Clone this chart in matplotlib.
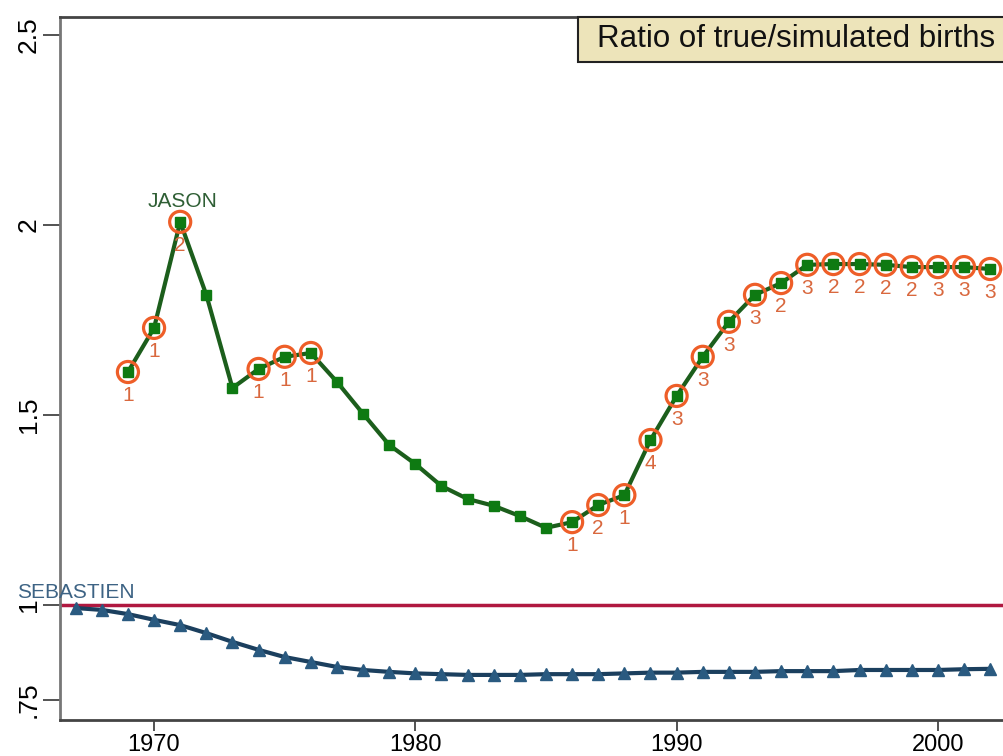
import numpy as np
import matplotlib.pyplot as plt
from matplotlib.patches import Rectangle

plt.rcParams['font.family'] = ['Liberation Sans', 'DejaVu Sans']

jason_years = list(range(1969, 2003))
jason_ratio = [1.613, 1.729, 2.008, 1.816, 1.571, 1.621, 1.653, 1.663, 1.587, 1.503,
               1.421, 1.371, 1.313, 1.279, 1.261, 1.234, 1.203, 1.218, 1.263, 1.289,
               1.434, 1.550, 1.653, 1.745, 1.816, 1.847, 1.895, 1.897, 1.897, 1.895,
               1.889, 1.889, 1.889, 1.884]
# number of matches for the circled years (0 = not circled)
jason_count = [1, 1, 2, 0, 0, 1, 1, 1, 0, 0,
               0, 0, 0, 0, 0, 0, 0, 1, 2, 1,
               4, 3, 3, 3, 3, 2, 3, 2, 2, 2,
               2, 3, 3, 3]

seb_years = list(range(1967, 2003))
seb_ratio = [0.992, 0.987, 0.976, 0.961, 0.947, 0.926, 0.903, 0.882, 0.863, 0.850,
             0.837, 0.829, 0.824, 0.820, 0.818, 0.816, 0.816, 0.816, 0.818, 0.818,
             0.818, 0.820, 0.822, 0.822, 0.824, 0.824, 0.824, 0.826, 0.826, 0.826,
             0.829, 0.829, 0.829, 0.829, 0.831, 0.832]

yticks = [0.75, 1, 1.5, 2, 2.5]
ytick_labels = ['.75', '1', '1.5', '2', '2.5']
xticks = [1970, 1980, 1990, 2000]

fig = plt.figure(figsize=(10.04, 7.56), dpi=100)
ax = fig.add_axes([60 / 1004, 36 / 756, 944 / 1004, 703 / 756])

ax.axhline(1, color='#B01840', lw=2.5, zorder=1)

ax.plot(seb_years, seb_ratio, color='#1B3F5E', lw=3, marker='^', ms=8,
        mfc='#2A5A80', mec='#2A5A80', zorder=3)
ax.plot(jason_years, jason_ratio, color='#1C5E1C', lw=3, marker='s', ms=6.5,
        mfc='#0E7A12', mec='#0E7A12', zorder=3)

cx = [y for y, c in zip(jason_years, jason_count) if c > 0]
cy = [r for r, c in zip(jason_ratio, jason_count) if c > 0]
ax.scatter(cx, cy, s=230, facecolors='none', edgecolors='#EE5E28', linewidths=2.3, zorder=4)
for y, r, c in zip(jason_years, jason_ratio, jason_count):
    if c > 0:
        ax.annotate(str(c), (y, r), xytext=(0, -17), textcoords='offset points',
                    ha='center', va='center', fontsize=15, color='#D9683E', zorder=5)

ax.annotate('JASON', (jason_years[2], jason_ratio[2]), xytext=(2, 14.5), textcoords='offset points',
            ha='center', va='center', fontsize=15, color='#2F5F35')
ax.annotate('SEBASTIEN', (seb_years[0], seb_ratio[0]), xytext=(0, 11.5), textcoords='offset points',
            ha='center', va='center', fontsize=15, color='#3D6384')

ax.set_xlim(1966.4, 2002.53)
ax.set_ylim(0.6974, 2.547)
ax.set_xticks(xticks)
ax.set_xticklabels([str(x) for x in xticks], fontsize=17)
ax.set_yticks(yticks)
ax.set_yticklabels(ytick_labels, fontsize=19, rotation=90, va='center')
ax.tick_params(axis='x', direction='out', length=8, width=1.3, color='#444444', pad=2)
ax.tick_params(axis='y', direction='out', length=12, width=1.3, color='#444444', pad=2)
for s in ['left', 'bottom', 'top']:
    ax.spines[s].set_color('#444444')
    ax.spines[s].set_linewidth(2)
ax.spines['left'].set_color('#777777')
ax.spines['right'].set_visible(False)

# title box, cut at right edge like the reference
fig.patches.append(Rectangle((578 / 1004, 1 - 62 / 756), 0.5, 45 / 756, transform=fig.transFigure,
                             facecolor='#EDE4BA', edgecolor='#222222', lw=1.5, zorder=5))
fig.text(597 / 1004, 1 - 39 / 756, 'Ratio of true/simulated births', fontsize=22.5,
         ha='left', va='center', color='#111111', zorder=6)

fig.savefig('out.png', dpi=100)
